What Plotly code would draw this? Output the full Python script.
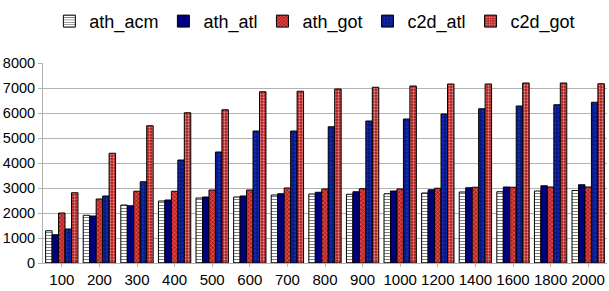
import plotly.graph_objects as go

categories = ["100", "200", "300", "400", "500", "600", "700", "800", "900",
              "1000", "1200", "1400", "1600", "1800", "2000"]

ath_acm = [1290, 1910, 2320, 2480, 2600, 2640, 2720, 2760, 2750, 2770, 2800, 2840, 2850, 2880, 2900]
ath_atl = [1130, 1880, 2290, 2520, 2640, 2680, 2770, 2830, 2850, 2880, 2930, 3010, 3040, 3090, 3130]
ath_got = [2000, 2560, 2870, 2870, 2920, 2920, 3000, 2960, 2970, 2960, 2990, 3030, 3030, 3040, 3040]
c2d_atl = [1360, 2680, 3250, 4120, 4440, 5280, 5280, 5450, 5680, 5760, 5960, 6170, 6280, 6330, 6430]
c2d_got = [2810, 4390, 5490, 6010, 6130, 6850, 6870, 6960, 7030, 7080, 7160, 7160, 7200, 7200, 7170]

y_ticks = [0, 1000, 2000, 3000, 4000, 5000, 6000, 7000, 8000]

series = [
    ("ath_acm", ath_acm, dict(color="white", pattern=dict(shape="-", fgcolor="black", bgcolor="white", size=3, solidity=0.35))),
    ("ath_atl", ath_atl, dict(color="#00007f")),
    ("ath_got", ath_got, dict(color="#c02020", pattern=dict(shape="x", fgcolor="white", bgcolor="#c01c1c", size=3, solidity=0.3))),
    ("c2d_atl", c2d_atl, dict(color="#1830d0", pattern=dict(shape=".", fgcolor="#000030", bgcolor="#1530c8", size=4, solidity=0.7))),
    ("c2d_got", c2d_got, dict(color="#c02020", pattern=dict(shape=".", fgcolor="white", bgcolor="#b01010", size=3, solidity=0.45))),
]

fig = go.Figure()
for name, vals, mk in series:
    mk = dict(mk)
    mk["line"] = dict(color="black", width=1)
    fig.add_trace(go.Bar(name=name, x=categories, y=vals, marker=mk))

fig.update_layout(
    width=609, height=291,
    margin=dict(l=43, r=2, t=63, b=28),
    paper_bgcolor="white", plot_bgcolor="white",
    font=dict(family="Liberation Sans, Arial, sans-serif", color="black", size=14.5),
    barmode="group", bargap=0.14, bargroupgap=0,
    showlegend=True,
    legend=dict(orientation="h", x=0.482, xanchor="center", y=0.99, yanchor="top",
                yref="container", font=dict(size=18), itemwidth=30,
                traceorder="normal"),
)
fig.update_xaxes(type="category", showgrid=False, showline=True, linecolor="#b3b3b3",
                 ticks="outside", ticklen=3, tickcolor="#b3b3b3", tickfont=dict(size=15))
fig.update_yaxes(range=[0, 8000], tickvals=y_ticks, showgrid=True, gridcolor="#b3b3b3",
                 showline=True, linecolor="#b3b3b3", ticks="outside", ticklen=4,
                 tickcolor="#b3b3b3", zeroline=False, tickfont=dict(size=14.5))

fig.write_html("out.html", config={"displayModeBar": False},
               post_script="document.body.style.margin='0';")
